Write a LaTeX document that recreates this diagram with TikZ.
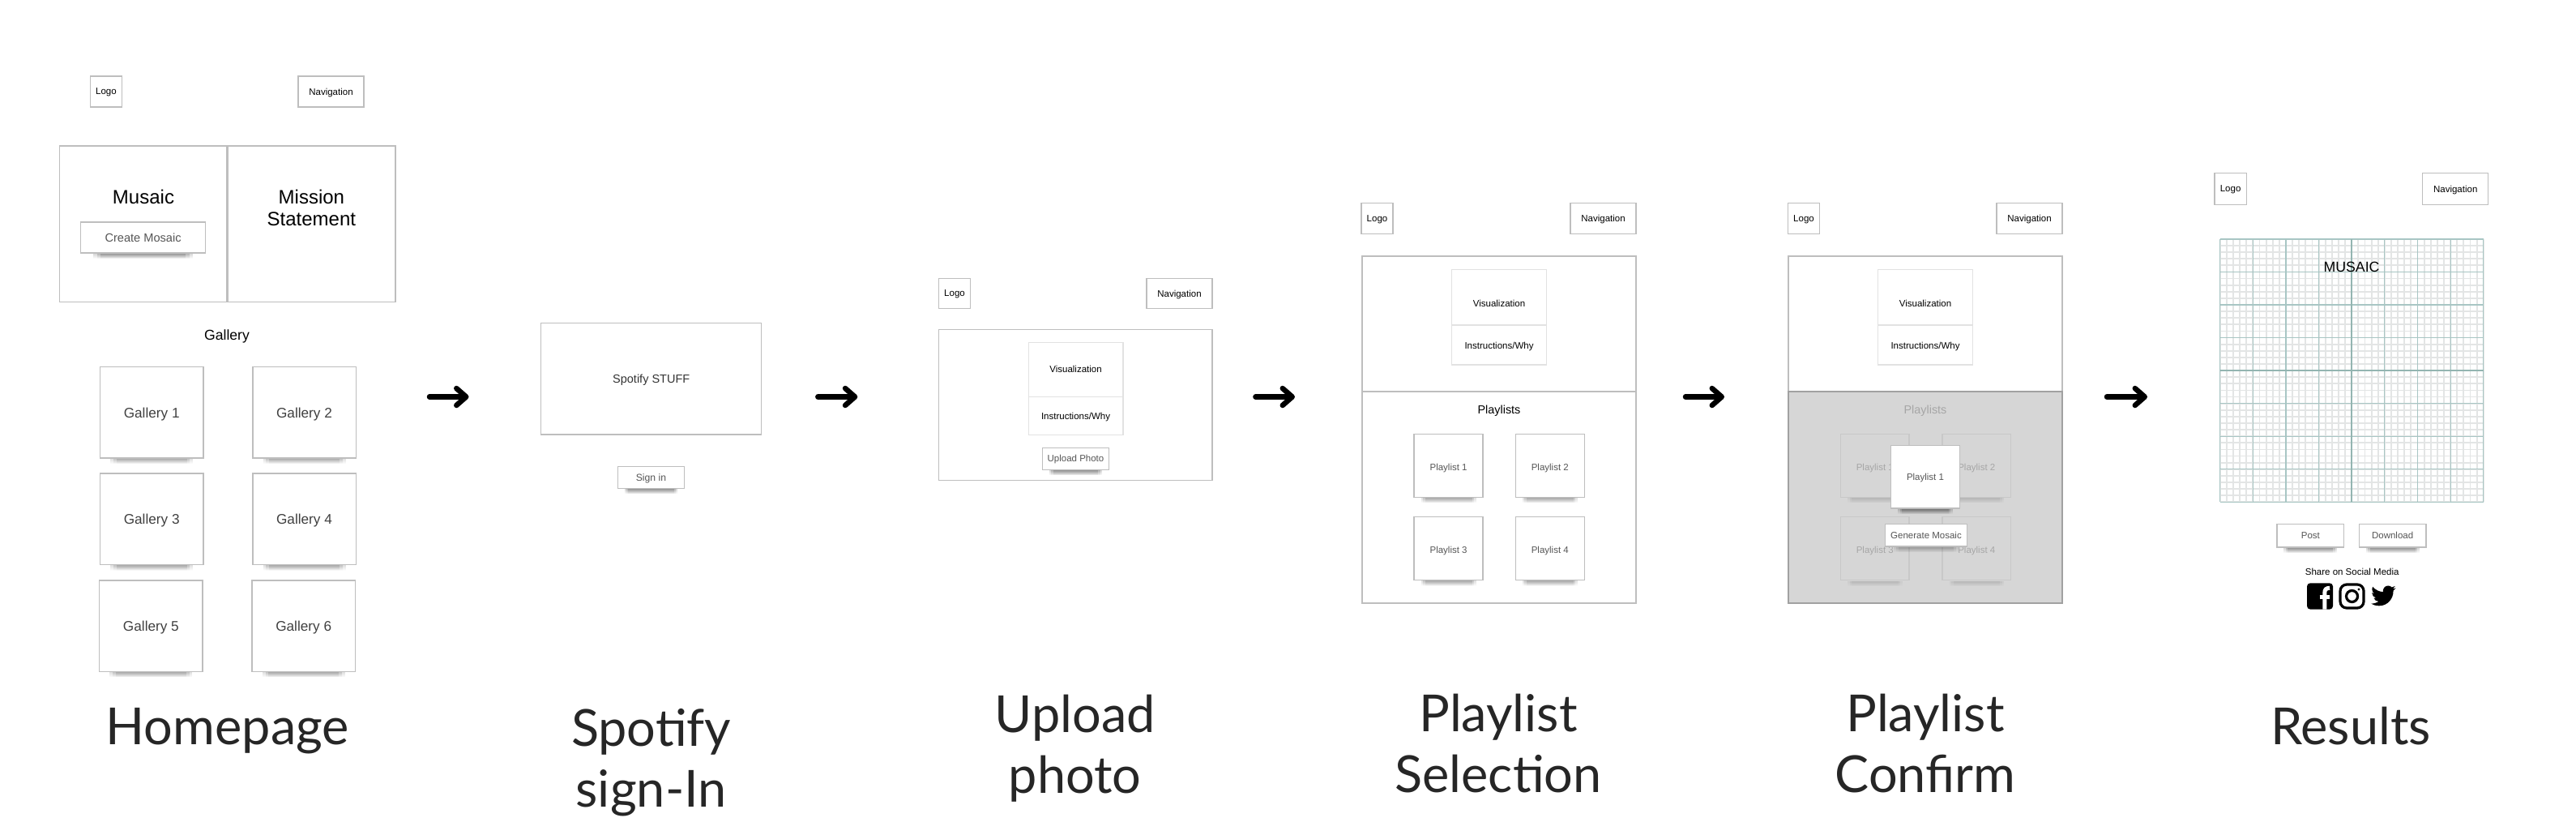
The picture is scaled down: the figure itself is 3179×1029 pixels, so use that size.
\documentclass[tikz,border=0pt]{standalone}
\usepackage{fontspec}
\setmainfont{Liberation Sans}
\newfontfamily\captionfont{Lato}
\usetikzlibrary{arrows.meta, calc, fadings}

\definecolor{wireline}{HTML}{BEBEBE}
\definecolor{softline}{HTML}{E2E2E2}
\definecolor{dimfill}{HTML}{D6D6D6}
\definecolor{dimline}{HTML}{C8C8C8}
\definecolor{dimtext}{HTML}{A6A6A6}
\definecolor{btntext}{HTML}{555555}
\definecolor{minorgrid}{HTML}{E3E5E5}
\definecolor{majorgrid}{HTML}{A8C6C4}
\definecolor{axisgrid}{HTML}{93B5B1}

\tikzfading[name = dropfade, top color = transparent!0, bottom color = transparent!100]

\tikzset{
    wire/.style = {shape = rectangle, draw = wireline, line width = 1.5pt, fill = white,
        inner sep = 0pt, outer sep = 0pt, align = center, text depth = 0pt},
    pane/.style = {wire, draw = softline},
    dim/.style = {wire, fill = dimfill, draw = dimline, text = dimtext},
    small/.style = {font = \fontsize{11.5}{13}\selectfont},
    label/.style = {small, text = btntext},
    caption/.style = {font = \captionfont\fontsize{63}{75}\selectfont, align = center, text = black!85},
    flow/.style = {line width = 6.5pt, line cap = round,
        -{Straight Barb[round, length = 12pt, width = 21pt]}},
}

\newcommand{\dropshade}[2]{
    \foreach \m/\k in {.1/.9, .13/.87, .16/.84}
        \fill[black, fill opacity = #2, path fading = dropfade] ($(#1.south west)!\m!(#1.south east) + (0,.8)$)
            rectangle ($(#1.south west)!\k!(#1.south east) + (0,7)$);
}

\begin{document}
\begin{tikzpicture}[x = 1pt, y = -1pt]
    \useasboundingbox (0,0) rectangle (3179,1029);

    \node[wire, small, minimum width = 39pt, minimum height = 38pt] (logoHome) at (131,113) {Logo};
    \node[wire, small, minimum width = 81pt, minimum height = 38pt] (navHome) at (408.5,113) {Navigation};
    \node[wire, minimum width = 206pt, minimum height = 192.4pt] (heroLeft) at (176.3,276.4) {};
    \node[wire, minimum width = 207pt, minimum height = 192.4pt] (heroRight) at (384.3,276.4) {};
    \node[font = \fontsize{24}{26.5}\selectfont] (heroTitle) at (177,243) {Musaic};
    \node[font = \fontsize{24}{26.5}\selectfont, align = center] (heroMission) at (384.4,256.5) {Mission\\Statement};
    \node[wire, minimum width = 154pt, minimum height = 38pt, text = btntext,
        font = \fontsize{14.6}{16}\selectfont] (createBtn) at (176.6,292.9) {Create Mosaic};
    \node[text depth = 0pt, font = \fontsize{17.6}{20}\selectfont] (galleryTitle) at (280,413.5) {Gallery};
    \foreach \n/\x/\y in {1/187.2/508.8, 2/375.5/508.8, 3/187.2/640.4, 4/375.5/640.4, 5/186.4/772.2, 6/374.7/772.2}
        \node[wire, minimum width = 127.5pt, minimum height = 112.5pt, text = black!75,
            font = \fontsize{17.2}{20}\selectfont] (gallery\n) at (\x,\y) {Gallery \n};

    \node[wire, minimum width = 272pt, minimum height = 137.7pt, text = black!80,
        font = \fontsize{14.5}{16}\selectfont] (spotifyBox) at (803.7,467.2) {Spotify STUFF};
    \node[wire, label, minimum width = 82.4pt, minimum height = 27pt,
        font = \fontsize{12.2}{14}\selectfont] (signBtn) at (803.5,588.8) {Sign in};

    \node[wire, small, minimum width = 39pt, minimum height = 37.4pt] (logoUpload) at (1178,362) {Logo};
    \node[wire, small, minimum width = 81pt, minimum height = 37.4pt] (navUpload) at (1455.5,362) {Navigation};
    \node[wire, minimum width = 337.5pt, minimum height = 186.4pt] (mainUpload) at (1327.2,499.5) {};
    \node[pane, small, minimum width = 116.5pt, minimum height = 67pt] (visUpload) at (1327.5,455.8) {Visualization};
    \node[pane, small, minimum width = 116.5pt, minimum height = 47.4pt] (whyUpload) at (1327.5,513) {Instructions/Why};
    \node[wire, label, minimum width = 82pt, minimum height = 27pt] (uploadBtn) at (1327.5,565.8) {Upload Photo};

    \node[wire, small, minimum width = 39pt, minimum height = 38pt] (logoSelect) at (1699.5,269.7) {Logo};
    \node[wire, small, minimum width = 81pt, minimum height = 38pt] (navSelect) at (1978.5,269.7) {Navigation};
    \node[wire, minimum width = 338pt, minimum height = 166.8pt] (topSelect) at (1850,399.4) {};
    \node[wire, minimum width = 338pt, minimum height = 261.2pt] (lowSelect) at (1850,613.4) {};
    \node[pane, small, text height = 22.8pt, minimum width = 117pt, minimum height = 68.5pt] (visSelect) at (1850,366.8) {Visualization};
    \node[pane, small, text height = 10.4pt, minimum width = 117pt, minimum height = 49pt] (whySelect) at (1850,425.6) {Instructions/Why};
    \node[text depth = 0pt, font = \fontsize{14.4}{16}\selectfont] (listSelect) at (1850,505.5) {Playlists};
    \foreach \n/\x/\y in {1/1787.6/574.3, 2/1912.8/574.3, 3/1787.6/676.6, 4/1912.8/676.6}
        \node[wire, label, text height = 11.8pt, minimum width = 85pt, minimum height = 78pt] (playlist\n) at (\x,\y) {Playlist \n};

    \node[wire, small, minimum width = 39pt, minimum height = 38pt] (logoConfirm) at (2226,269.7) {Logo};
    \node[wire, small, minimum width = 81pt, minimum height = 38pt] (navConfirm) at (2504.5,269.7) {Navigation};
    \node[wire, minimum width = 338pt, minimum height = 166.8pt] (topConfirm) at (2376,399.4) {};
    \node[wire, fill = dimfill, draw = wireline!85!black, minimum width = 338pt, minimum height = 261.2pt] (lowConfirm) at (2376,613.4) {};
    \node[pane, small, text height = 22.8pt, minimum width = 117pt, minimum height = 68.5pt] (visConfirm) at (2376,366.8) {Visualization};
    \node[pane, small, text height = 10.4pt, minimum width = 117pt, minimum height = 49pt] (whyConfirm) at (2376,425.6) {Instructions/Why};
    \node[text = dimtext, text depth = 0pt, font = \fontsize{14.4}{16}\selectfont] (listConfirm) at (2376,505.5) {Playlists};
    \foreach \n/\x/\y in {1/2313.8/574.3, 2/2439.3/574.3, 3/2313.8/676.7, 4/2439.3/676.7} {
        \node[dim, small, text height = 11.8pt, minimum width = 84.5pt, minimum height = 78pt] (dimlist\n) at (\x,\y) {Playlist \n};
        \dropshade{dimlist\n}{.05}
    }
    \node[wire, label, minimum width = 84.6pt, minimum height = 77.4pt] (pickCard) at (2376,588.3) {Playlist 1};
    \dropshade{pickCard}{.18}
    \node[wire, label, minimum width = 100.6pt, minimum height = 27.2pt] (generateBtn) at (2377,660.3) {Generate Mosaic};
    \dropshade{generateBtn}{.1}

    \node[wire, small, minimum width = 39.3pt, minimum height = 38.9pt] (logoResult) at (2752.6,233) {Logo};
    \node[wire, small, minimum width = 81pt, minimum height = 38.9pt] (navResult) at (3030.2,233) {Navigation};
    \foreach \i in {0,...,40} {
        \draw[minorgrid, line width = 1.8pt] ({2739.7 + \i*8.125},294.9) -- ++(0,324.4);
        \draw[minorgrid, line width = 1.8pt] (2739.7,{294.9 + \i*8.11}) -- ++(325,0);
    }
    \foreach \i in {0,...,8} {
        \draw[majorgrid, line width = 1.2pt] ({2739.7 + \i*40.625},294.9) -- ++(0,324.4);
        \draw[majorgrid, line width = 1.2pt] (2739.7,{294.9 + \i*40.55}) -- ++(325,0);
    }
    \draw[axisgrid, line width = 1.8pt] (2902.2,294.9) -- ++(0,324.4);
    \draw[axisgrid, line width = 1.8pt] (2739.7,457.1) -- ++(325,0);
    \node[font = \fontsize{17.7}{20}\selectfont] (mosaicTitle) at (2902,329.5) {MUSAIC};
    \node[wire, label, minimum width = 82.7pt, minimum height = 28.5pt] (postBtn) at (2851.3,660.8) {Post};
    \node[wire, label, minimum width = 82.7pt, minimum height = 28.5pt] (downloadBtn) at (2952.6,660.8) {Download};
    \node[small, text depth = 0pt] (shareText) at (2902.7,705) {Share on Social Media};

    \foreach \nd in {gallery1, gallery2, gallery3, gallery4, gallery5, gallery6, playlist1, playlist2, playlist3, playlist4} {
        \dropshade{\nd}{.12}
    }
    \foreach \nd in {createBtn, signBtn, uploadBtn, postBtn, downloadBtn} {
        \dropshade{\nd}{.16}
    }

    \fill[black, rounded corners = 4pt] (2847,719.3) rectangle (2879,751.6);
    \draw[white, line width = 5pt] (2868.8,751.6) -- (2868.8,731) .. controls (2868.8,727) and (2871,725.3) .. (2875,725.3);
    \draw[white, line width = 4.5pt] (2862.5,736.5) -- (2875,736.5);
    \draw[black, line width = 3.2pt, rounded corners = 8pt] (2888,721) rectangle (2917,750);
    \draw[black, line width = 3.2pt] (2902.5,735.5) circle (7);
    \fill[black] (2911,727) circle (1.6);
    \begin{scope}[shift = {(2926,719.6)}, x = 1.275pt, y = -1.275pt]
        \fill[black] (23.95,4.57) .. controls (23.07,4.96) and (22.1,5.22) .. (21.12,5.35)
            .. controls (22.14,4.74) and (22.92,3.77) .. (23.29,2.63)
            .. controls (22.34,3.19) and (21.28,3.59) .. (20.16,3.82)
            .. controls (19.26,2.86) and (17.98,2.26) .. (16.57,2.26)
            .. controls (13.85,2.26) and (11.65,4.47) .. (11.65,7.18)
            .. controls (11.65,7.57) and (11.69,7.94) .. (11.77,8.3)
            .. controls (7.68,8.1) and (4.05,6.14) .. (1.64,3.16)
            .. controls (1.21,3.88) and (.97,4.73) .. (.97,5.64)
            .. controls (.97,7.35) and (1.84,8.85) .. (3.16,9.74)
            .. controls (2.35,9.71) and (1.59,9.49) .. (.93,9.12)
            -- (.93,9.18)
            .. controls (.93,11.56) and (2.62,13.55) .. (4.88,14.01)
            .. controls (4.18,14.2) and (3.44,14.22) .. (2.67,14.09)
            .. controls (3.3,16.05) and (5.12,17.47) .. (7.27,17.51)
            .. controls (5.6,18.82) and (2.1,19.79) .. (0,19.54)
            .. controls (2.17,20.93) and (4.77,21.75) .. (7.56,21.75)
            .. controls (16.61,21.75) and (21.56,14.25) .. (21.56,7.77)
            .. controls (21.56,7.56) and (21.56,7.35) .. (21.54,7.14)
            .. controls (22.5,6.45) and (23.34,5.58) .. (23.95,4.57) -- cycle;
    \end{scope}

    \foreach \n/\a/\b in {Home/530/578.5, Sign/1009.3/1058.3, Upload/1549.4/1598, Select/2080/2128, Confirm/2600/2650} {
        \coordinate (start\n) at (\a,489.5);
        \coordinate (end\n) at (\b,489.5);
        \draw[flow] (start\n) -- (end\n);
    }

    \node[caption] (capHome) at (280.7,902) {Homepage};
    \node[caption] (capSign) at (803.7,940.5) {Spotify\\sign-In};
    \node[caption] (capUpload) at (1326.7,923.5) {Upload\\photo};
    \node[caption] (capSelect) at (1849,917.5) {Playlist\\Selection};
    \node[caption] (capConfirm) at (2376,917.5) {Playlist\\Confirm};
    \node[caption] (capResult) at (2901,896) {Results};
\end{tikzpicture}
\end{document}
